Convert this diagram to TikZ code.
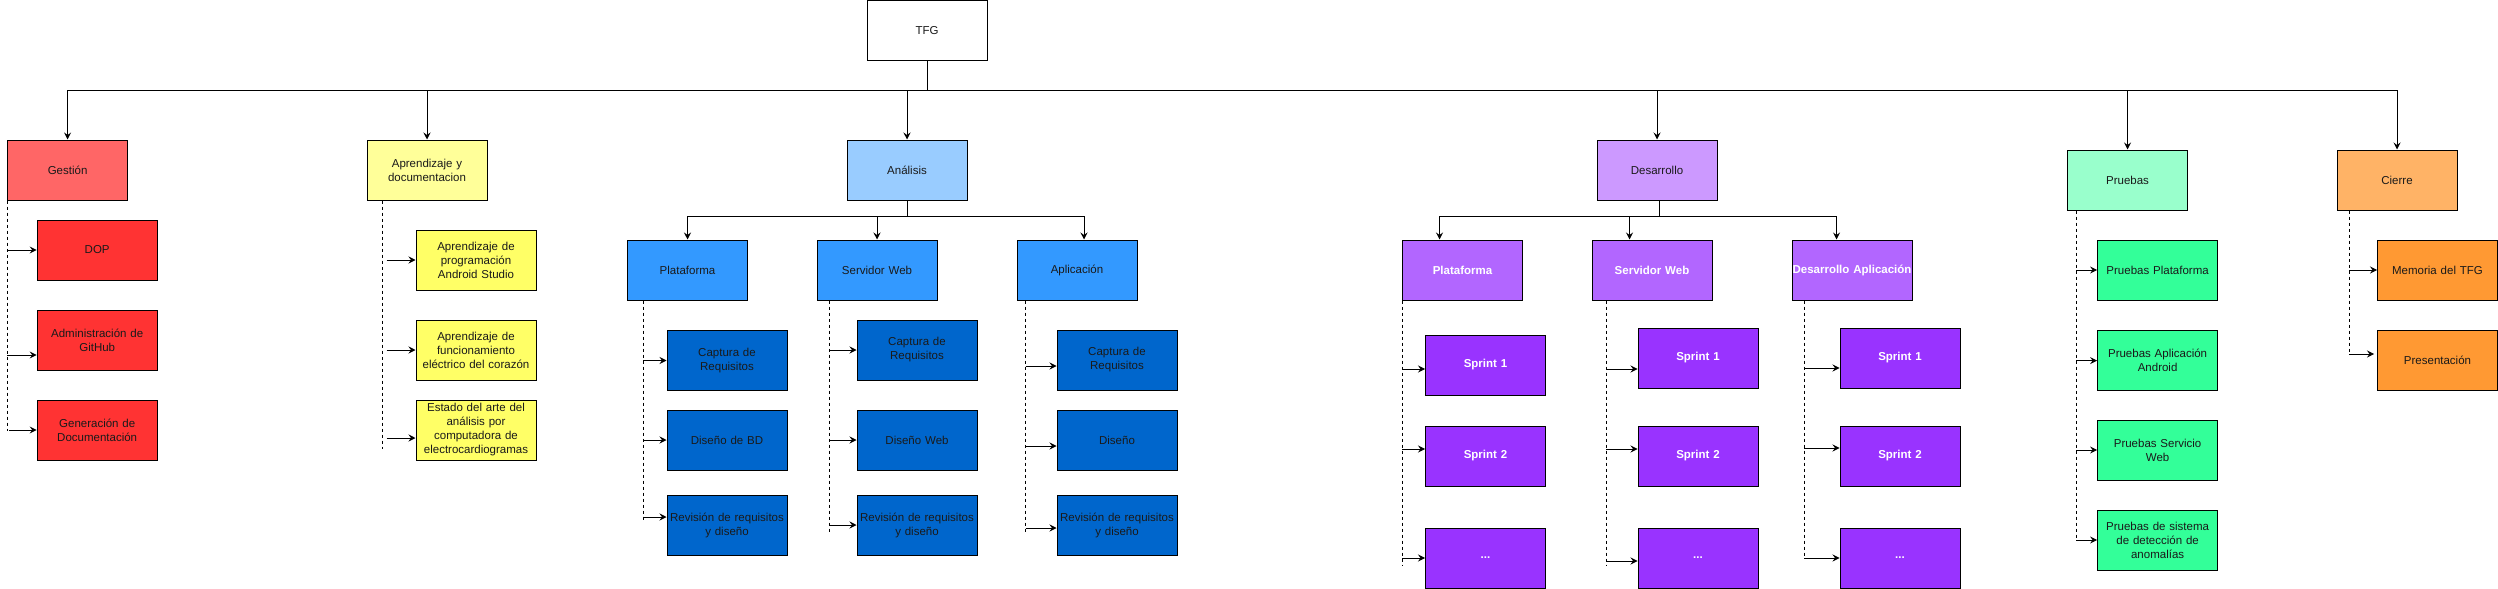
\documentclass[tikz,border=0pt]{standalone}
\usepackage{fontspec}
\setmainfont{Liberation Sans}
\usetikzlibrary{arrows.meta}
\definecolor{cGes}{HTML}{FF6666}
\definecolor{cGesC}{HTML}{FF3333}
\definecolor{cApr}{HTML}{FFFF99}
\definecolor{cAprC}{HTML}{FFFF66}
\definecolor{cAna}{HTML}{99CCFF}
\definecolor{cAnaS}{HTML}{3399FF}
\definecolor{cAnaC}{HTML}{0066CC}
\definecolor{cDes}{HTML}{CC99FF}
\definecolor{cDesS}{HTML}{B266FF}
\definecolor{cDesC}{HTML}{9933FF}
\definecolor{cPru}{HTML}{99FFCC}
\definecolor{cPruC}{HTML}{33FF99}
\definecolor{cCie}{HTML}{FFB366}
\definecolor{cCieC}{HTML}{FF9933}
\definecolor{txt}{HTML}{1A1A1A}
\tikzset{
  box/.style={draw=black, line width=1pt, minimum width=120pt, minimum height=60pt,
    inner sep=0pt, text width=120pt, align=center, text=txt,
    font=\fontsize{11.5}{14}\selectfont},
  wbox/.style={box, text=white, font=\fontsize{11.5}{14}\selectfont\bfseries},
  arr/.style={line width=0.9pt, -{Stealth[length=7pt,width=7pt,inset=2.5pt]}},
  ln/.style={line width=0.9pt},
  dsh/.style={line width=0.8pt, dash pattern=on 3pt off 3pt},
}
\begin{document}
\begin{tikzpicture}[x=1pt,y=-1pt]
\useasboundingbox (0,0) rectangle (2498,589);
\coordinate (bus) at (0,90);
\coordinate (anabus) at (0,216);
\coordinate (desbus) at (0,216);

% top
\node[box] (tfg) at (927,30.5) {TFG};

% level 1
\node[box, fill=cGes] (ges) at (67.6,170) {Gestión};
\node[box, fill=cApr] (apr) at (427,170) {Aprendizaje y\\documentacion};
\node[box, fill=cAna] (ana) at (907,170) {Análisis};
\node[box, fill=cDes] (des) at (1657,170) {Desarrollo};
\node[box, fill=cPru] (pru) at (2127.5,180) {Pruebas};
\node[box, fill=cCie] (cie) at (2397,180) {Cierre};

% Gestion children
\node[box, fill=cGesC] (g1) at (97.2,250) {DOP};
\node[box, fill=cGesC] (g2) at (97.2,340) {Administración de\\GitHub};
\node[box, fill=cGesC] (g3) at (97.2,430) {Generación de\\Documentación};

% Aprendizaje children
\node[box, fill=cAprC] (a1) at (476,260) {Aprendizaje de\\programación\\Android Studio};
\node[box, fill=cAprC] (a2) at (476,350) {Aprendizaje de\\funcionamiento\\eléctrico del corazón};
\node[box, fill=cAprC] (a3) at (476,430) {Estado del arte del\\análisis por\\computadora de\\electrocardiogramas};

% Analisis subs
\node[box, fill=cAnaS] (n1) at (687.5,270) {Plataforma};
\node[box, fill=cAnaS] (n2) at (877,270) {Servidor Web};
\node[box, fill=cAnaS] (n3) at (1077,270) {Aplicación};
\node[box, fill=cAnaC] (n11) at (727,360.5) {Captura de\\Requisitos};
\node[box, fill=cAnaC] (n12) at (727,440) {Diseño de BD};
\node[box, fill=cAnaC] (n13) at (727,525) {Revisión de requisitos\\y diseño};
\node[box, fill=cAnaC] (n21) at (917,350) {Captura de\\Requisitos};
\node[box, fill=cAnaC] (n22) at (917,440) {Diseño Web};
\node[box, fill=cAnaC] (n23) at (917,525) {Revisión de requisitos\\y diseño};
\node[box, fill=cAnaC] (n31) at (1117,360) {Captura de\\Requisitos};
\node[box, fill=cAnaC] (n32) at (1117,440) {Diseño};
\node[box, fill=cAnaC] (n33) at (1117,525) {Revisión de requisitos\\y diseño};

% Desarrollo subs
\node[wbox, fill=cDesS] (d1) at (1462.5,270) {Plataforma};
\node[wbox, fill=cDesS] (d2) at (1652,270) {Servidor Web};
\node[wbox, fill=cDesS] (d3) at (1852,270) {Desarrollo Aplicación};
\node[wbox, fill=cDesC] (d11) at (1485.5,365) {Sprint 1};
\node[wbox, fill=cDesC] (d12) at (1485.5,456) {Sprint 2};
\node[wbox, fill=cDesC] (d13) at (1485.5,558) {...};
\node[wbox, fill=cDesC] (d21) at (1698,358) {Sprint 1};
\node[wbox, fill=cDesC] (d22) at (1698,456) {Sprint 2};
\node[wbox, fill=cDesC] (d23) at (1698,558) {...};
\node[wbox, fill=cDesC] (d31) at (1900,358) {Sprint 1};
\node[wbox, fill=cDesC] (d32) at (1900,456) {Sprint 2};
\node[wbox, fill=cDesC] (d33) at (1900,558) {...};

% Pruebas children
\node[box, fill=cPruC] (p1) at (2157.6,270) {Pruebas Plataforma};
\node[box, fill=cPruC] (p2) at (2157.6,360.6) {Pruebas Aplicación\\Android};
\node[box, fill=cPruC] (p3) at (2157.6,450) {Pruebas Servicio\\Web};
\node[box, fill=cPruC] (p4) at (2157.6,540) {Pruebas de sistema\\de detección de\\anomalías};

% Cierre children
\node[box, fill=cCieC] (c1) at (2437.5,270) {Memoria del TFG};
\node[box, fill=cCieC] (c2) at (2437.5,360) {Presentación};

% main bus
\draw[ln] (tfg.south) -- (tfg.south |- bus);
\foreach \t in {ges,apr,ana,des,pru,cie}{
  \draw[arr] (tfg.south |- bus) -| (\t.north);
}

% analisis bus
\draw[ln] (ana.south) -- (ana.south |- anabus);
\draw[arr] (ana.south |- anabus) -| (n1.north);
\draw[arr] (ana.south |- anabus) -| (n2.north);
\draw[arr] (ana.south |- anabus) -| ([xshift=7pt]n3.north);

% desarrollo bus
\draw[ln] ([xshift=2pt]des.south) -- ([xshift=2pt]des.south |- desbus);
\draw[arr] ([xshift=2pt]des.south |- desbus) -| ([xshift=-23pt]d1.north);
\draw[arr] ([xshift=2pt]des.south |- desbus) -| ([xshift=-22.5pt]d2.north);
\draw[arr] ([xshift=2pt]des.south |- desbus) -| ([xshift=-15.5pt]d3.north);

% Gestion dashed
\coordinate (gx) at ([xshift=0pt]ges.south west);
\draw[dsh] (gx) -- (gx |- 0,431);
\draw[arr] (gx |- g1.west) -- (g1.west);
\draw[arr] ([yshift=-15pt]gx |- g2.west) -- ([yshift=-15pt]g2.west);
\draw[arr] ([xshift=2pt]gx |- g3.west) -- (g3.west);

% Aprendizaje dashed
\coordinate (ax) at ([xshift=16pt]apr.south west);
\draw[dsh] (ax) -- (ax |- 0,449);
\draw[arr] ([xshift=4pt]ax |- a1.west) -- (a1.west);
\draw[arr] ([xshift=4pt]ax |- a2.west) -- (a2.west);
\draw[arr] ([xshift=4pt,yshift=-8pt]ax |- a3.west) -- ([yshift=-8pt]a3.west);

% Analisis Plataforma
\coordinate (n1x) at ([xshift=16pt]n1.south west);
\draw[dsh] (n1x) -- (n1x |- 0,522);
\draw[arr] (n1x |- n11.west) -- (n11.west);
\draw[arr] (n1x |- n12.west) -- (n12.west);
\draw[arr] ([yshift=8pt]n1x |- n13.west) -- ([yshift=8pt]n13.west);

% Analisis Servidor
\coordinate (n2x) at ([xshift=12.5pt]n2.south west);
\draw[dsh] (n2x) -- (n2x |- 0,532);
\draw[arr] (n2x |- n21.west) -- (n21.west);
\draw[arr] (n2x |- n22.west) -- (n22.west);
\draw[arr] (n2x |- n23.west) -- (n23.west);

% Analisis Aplicacion
\coordinate (n3x) at ([xshift=9pt]n3.south west);
\draw[dsh] (n3x) -- (n3x |- 0,532);
\draw[arr] ([yshift=-6pt]n3x |- n31.west) -- ([yshift=-6pt]n31.west);
\draw[arr] ([yshift=-6pt]n3x |- n32.west) -- ([yshift=-6pt]n32.west);
\draw[arr] ([yshift=-3pt]n3x |- n33.west) -- ([yshift=-3pt]n33.west);

% Desarrollo Plataforma
\coordinate (d1x) at (d1.south west);
\draw[dsh] (d1x) -- (d1x |- 0,565);
\draw[arr] ([yshift=-4pt]d1x |- d11.west) -- ([yshift=-4pt]d11.west);
\draw[arr] ([yshift=7pt]d1x |- d12.west) -- ([yshift=7pt]d12.west);
\draw[arr] (d1x |- d13.west) -- (d13.west);

% Desarrollo Servidor
\coordinate (d2x) at ([xshift=14.7pt]d2.south west);
\draw[dsh] (d2x) -- (d2x |- 0,565);
\draw[arr] ([yshift=-11pt]d2x |- d21.west) -- ([yshift=-11pt]d21.west);
\draw[arr] ([yshift=7pt]d2x |- d22.west) -- ([yshift=7pt]d22.west);
\draw[arr] ([yshift=-3pt]d2x |- d23.west) -- ([yshift=-3pt]d23.west);

% Desarrollo Aplicacion
\coordinate (d3x) at ([xshift=12.5pt]d3.south west);
\draw[dsh] (d3x) -- (d3x |- 0,558);
\draw[arr] ([yshift=-10pt]d3x |- d31.west) -- ([yshift=-10pt]d31.west);
\draw[arr] ([yshift=8pt]d3x |- d32.west) -- ([yshift=8pt]d32.west);
\draw[arr] (d3x |- d33.west) -- (d33.west);

% Pruebas
\coordinate (px) at ([xshift=9pt]pru.south west);
\draw[dsh] (px) -- (px |- p4.west);
\draw[arr] (px |- p1.west) -- (p1.west);
\draw[arr] (px |- p2.west) -- (p2.west);
\draw[arr] (px |- p3.west) -- (p3.west);
\draw[arr] (px |- p4.west) -- (p4.west);

% Cierre
\coordinate (cx) at ([xshift=12.5pt]cie.south west);
\draw[dsh] (cx) -- ([yshift=6pt]cx |- c2.west);
\draw[arr] (cx |- c1.west) -- (c1.west);
\draw[arr] ([yshift=6pt]cx |- c2.west) -- ([xshift=-3pt,yshift=6pt]c2.west);
\end{tikzpicture}
\end{document}
